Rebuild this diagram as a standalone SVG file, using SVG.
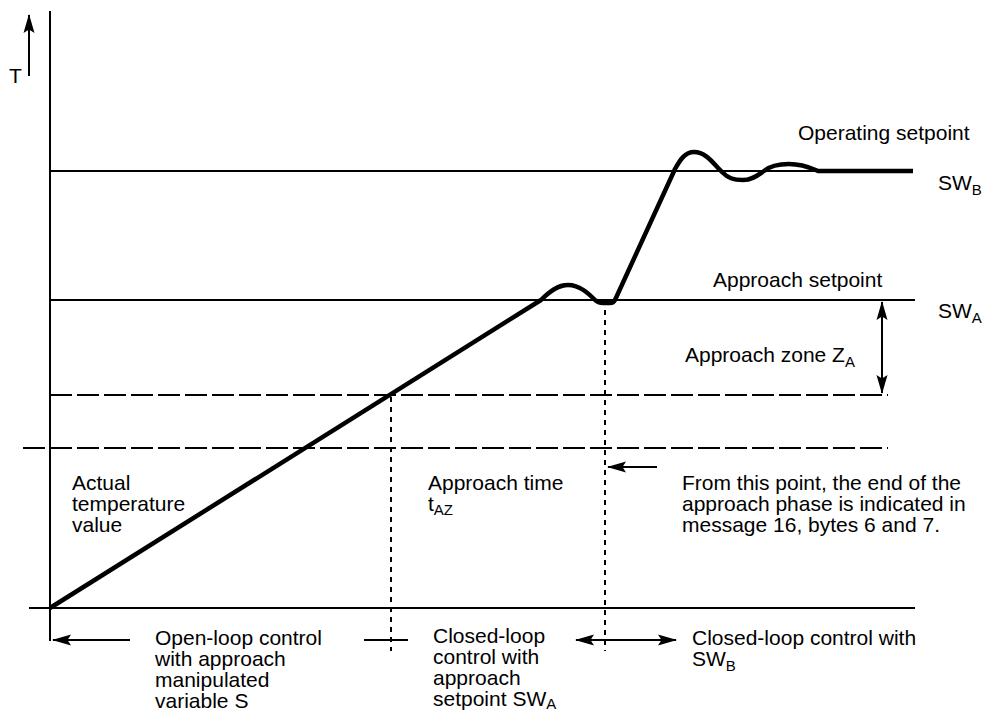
<svg xmlns="http://www.w3.org/2000/svg" width="984" height="711" viewBox="0 0 984 711">
<style>
text{font-family:"Liberation Sans",Arial,sans-serif;font-size:21px;fill:#000}
.sub{font-size:15px}
.ln{stroke:#000;stroke-width:2;fill:none}
.dash{stroke:#000;stroke-width:2;fill:none;stroke-dasharray:22 5}
.dot{stroke:#000;stroke-width:2;fill:none;stroke-dasharray:5 5}
.curve{stroke:#000;stroke-width:4.5;fill:none;stroke-linejoin:round;stroke-linecap:butt}
</style>
<defs>
<marker id="ah" markerUnits="userSpaceOnUse" markerWidth="22" markerHeight="14" viewBox="-20 -7 22 14" refX="0" refY="0" orient="auto-start-reverse">
<path d="M1,0 L-18,-5.5 L-14.5,0 L-18,5.5 Z" fill="#000"/>
</marker>
</defs>
<g id="axes">
<line class="ln" x1="50" y1="11" x2="50" y2="641"/>
<line class="ln" x1="29" y1="608" x2="915" y2="608" stroke-width="2.5"/>
<line class="ln" x1="29" y1="76" x2="29" y2="15" marker-end="url(#ah)"/>
<text x="9" y="83">T</text>
</g>
<g id="setpoint-lines">
<line class="ln" x1="50" y1="171" x2="913" y2="171"/>
<line class="ln" x1="50" y1="300" x2="915" y2="300"/>
<line class="dash" x1="50" y1="395" x2="888" y2="395"/>
<line class="dash" x1="23" y1="448" x2="888" y2="448"/>
</g>
<g id="verticals">
<line class="dot" x1="391" y1="397" x2="391" y2="651"/>
<line class="dot" x1="605" y1="310" x2="605" y2="651"/>
</g>
<g id="curve">
<path class="curve" d="M50,608 L541,300 C550,291 558,285 568,285 C580,285 589,294 595,300 C598,303 600,303 603,303 L610,303 C613,303 614,302 615,300 L675,169 C680,160 685,152 694,152 C707,152 715,166 722,172 C728,178 733,180 743,180 C752,180 758,175 764,171 C770,166 778,164 789,164 C803,164 811,168 818,171 L913,171"/>
</g>
<g id="connectors">
<line class="ln" x1="882" y1="302" x2="882" y2="393" marker-start="url(#ah)" marker-end="url(#ah)"/>
<line class="ln" x1="657" y1="467" x2="608" y2="467" marker-end="url(#ah)"/>
<line class="ln" x1="130" y1="640" x2="53" y2="640" marker-end="url(#ah)"/>
<line class="ln" x1="364" y1="640" x2="408" y2="640"/>
<line class="ln" x1="576" y1="640" x2="676" y2="640" marker-start="url(#ah)" marker-end="url(#ah)"/>
</g>
<g id="labels">
<text x="798" y="140">Operating setpoint</text>
<text x="938" y="190">SW<tspan class="sub" dy="5">B</tspan></text>
<text x="713" y="287">Approach setpoint</text>
<text x="938" y="318">SW<tspan class="sub" dy="5">A</tspan></text>
<text x="685" y="362">Approach zone Z<tspan class="sub" dy="5">A</tspan></text>
<text x="72" y="490">Actual</text>
<text x="72" y="511">temperature</text>
<text x="72" y="532">value</text>
<text x="428" y="490">Approach time</text>
<text x="428" y="511">t<tspan class="sub" dy="4">AZ</tspan></text>
<text x="682" y="490">From this point, the end of the</text>
<text x="682" y="511">approach phase is indicated in</text>
<text x="682" y="532">message 16, bytes 6 and 7.</text>
<text x="155" y="645">Open-loop control</text>
<text x="155" y="666">with approach</text>
<text x="155" y="687">manipulated</text>
<text x="155" y="708">variable S</text>
<text x="433" y="643">Closed-loop</text>
<text x="433" y="664">control with</text>
<text x="433" y="685">approach</text>
<text x="433" y="706">setpoint SW<tspan class="sub" dy="3">A</tspan></text>
<text x="692" y="645">Closed-loop control with</text>
<text x="692" y="666">SW<tspan class="sub" dy="5">B</tspan></text>
</g>
</svg>
